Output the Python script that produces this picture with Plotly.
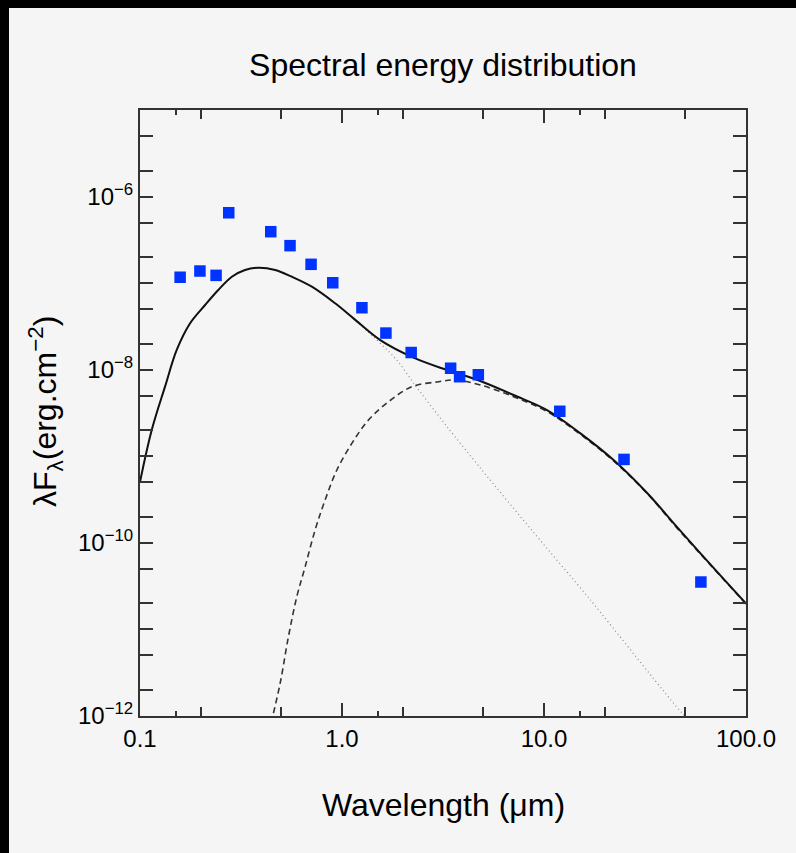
import plotly.graph_objects as go

# Observed photometry (wavelength in micron, lambda*F_lambda)
obs_wl = [0.158, 0.198, 0.238, 0.275, 0.444, 0.553, 0.703, 0.90, 1.255, 1.65,
          2.20, 3.45, 3.82, 4.73, 11.97, 24.9, 59.8]
obs_flux = [1.17e-7, 1.38e-7, 1.23e-7, 6.5e-7, 3.93e-7, 2.71e-7, 1.65e-7, 1.01e-7,
            5.2e-8, 2.65e-8, 1.58e-8, 1.04e-8, 8.3e-9, 8.75e-9, 3.31e-9, 9.2e-10, 3.53e-11]

# Total model (solid)
tot_wl = [0.1, 0.1143, 0.133, 0.152, 0.177, 0.210, 0.244, 0.285, 0.331, 0.386,
          0.467, 0.564, 0.709, 0.925, 1.14, 1.547, 2.26, 3.31, 4.84, 7.07,
          10.35, 15.14, 22.1, 32.4, 45.6, 59.5, 100.0]
tot_flux = [5.05e-10, 2.01e-9, 6.37e-9, 1.69e-8, 3.44e-8, 5.59e-8, 8.33e-8, 1.187e-7,
            1.42e-7, 1.51e-7, 1.42e-7, 1.187e-7, 9.1e-8, 5.85e-8, 3.92e-8, 2.2e-8,
            1.38e-8, 9.92e-9, 7.41e-9, 5.1e-9, 3.42e-9, 1.84e-9, 9.06e-10, 3.77e-10,
            1.52e-10, 7.55e-11, 1.99e-11]

# Stellar component (dotted)
star_wl = [0.1, 0.1143, 0.133, 0.152, 0.177, 0.210, 0.244, 0.285, 0.331, 0.386,
           0.467, 0.564, 0.709, 0.925, 1.14, 1.27, 1.87, 2.26, 3.31, 4.84, 8.85,
           16.97, 48.3, 53.1]
star_flux = [5.05e-10, 2.01e-9, 6.37e-9, 1.69e-8, 3.44e-8, 5.59e-8, 8.33e-8, 1.187e-7,
             1.42e-7, 1.51e-7, 1.42e-7, 1.187e-7, 9.1e-8, 5.85e-8, 3.92e-8, 3.11e-8,
             1.29e-8, 7.02e-9, 2.2e-9, 7.32e-10, 1.334e-10, 2.19e-11, 1.08e-12, 8.87e-13]

# Dust component (dashed)
dust_wl = [0.4457, 0.494, 0.543, 0.5975, 0.657, 0.736, 0.825, 0.943, 1.119, 1.352,
           1.70, 2.22, 3.01, 3.64, 4.84, 7.07, 10.35, 15.14, 22.1, 32.4, 45.6,
           59.5, 100.0]
dust_flux = [8.3e-13, 2.38e-12, 8.24e-12, 2.39e-11, 5.3e-11, 1.41e-10, 3.13e-10,
             6.94e-10, 1.41e-9, 2.62e-9, 4.27e-9, 6.37e-9, 7.27e-9, 7.6e-9, 6.66e-9,
             4.88e-9, 3.29e-9, 1.79e-9, 8.82e-10, 3.72e-10, 1.48e-10, 7.43e-11, 1.97e-11]

x_major = [0.1, 1.0, 10.0, 100.0]
x_major_text = ["0.1", "1.0", "10.0", "100.0"]
x_minor = [0.2, 0.5, 2, 5, 20, 50]
x_minor_small = [0.15, 1.5, 15]
y_major = [1e-12, 1e-10, 1e-8, 1e-6]
y_major_text = ["10<sup>−12</sup>", "10<sup>−10</sup>", "10<sup>−8</sup>", "10<sup>−6</sup>"]
y_minor = [2e-12, 5e-12, 1e-11, 2e-11, 5e-11, 2e-10, 5e-10, 1e-9, 2e-9, 5e-9,
           2e-8, 5e-8, 1e-7, 2e-7, 5e-7, 2e-6, 5e-6]

BG = "#f5f5f5"
FONT = "Liberation Sans, Arial, Helvetica, sans-serif"
AX = "#333333"

fig = go.Figure()
fig.add_trace(go.Scatter(x=star_wl, y=star_flux, mode="lines", line=dict(color="#8a8a8a", width=1.2, dash="1px,3px", shape="spline", smoothing=0.8), hoverinfo="skip"))
fig.add_trace(go.Scatter(x=dust_wl, y=dust_flux, mode="lines", line=dict(color="#333333", width=1.6, dash="6px,4px", shape="spline"), hoverinfo="skip"))
fig.add_trace(go.Scatter(x=tot_wl, y=tot_flux, mode="lines", line=dict(color="#111111", width=2, shape="spline"), hoverinfo="skip"))
fig.add_trace(go.Scatter(x=obs_wl, y=obs_flux, mode="markers", marker=dict(symbol="square", size=11.5, color="#0033ff")))
# helper invisible trace to bind the secondary (short tick) axis
fig.add_trace(go.Scatter(x=obs_wl[:1], y=obs_flux[:1], xaxis="x2", mode="markers", marker=dict(opacity=0), hoverinfo="skip"))

fig.update_layout(
    width=796, height=853,
    margin=dict(l=140, r=50, t=110, b=137),
    paper_bgcolor=BG, plot_bgcolor=BG,
    showlegend=False,
    font=dict(family=FONT, color="#000000"),
    title=dict(text="Spectral energy distribution", x=0.5, xref="paper", xanchor="center",
               y=1 - 65 / 853, yref="container", yanchor="middle", font=dict(size=32, family=FONT)),
    xaxis=dict(type="log", range=[-1, 2], tickmode="array", tickvals=x_major, ticktext=x_major_text,
               ticks="inside", ticklen=13, tickwidth=1.5, tickcolor=AX,
               showline=True, linecolor=AX, linewidth=2, mirror="allticks",
               showgrid=False, zeroline=False, tickfont=dict(size=24),
               minor=dict(tickmode="array", tickvals=x_minor, ticks="inside", ticklen=9, tickwidth=1.5, tickcolor=AX, showgrid=False)),
    xaxis2=dict(type="log", range=[-1, 2], overlaying="x", anchor="y", side="bottom",
                tickmode="array", tickvals=x_minor_small, ticks="inside", ticklen=5, tickwidth=1.5, tickcolor=AX,
                showticklabels=False, showline=False, mirror="allticks", showgrid=False, zeroline=False),
    yaxis=dict(type="log", range=[-12, -5], tickmode="array", tickvals=y_major, ticktext=y_major_text,
               ticks="inside", ticklen=13, tickwidth=1.5, tickcolor=AX,
               showline=True, linecolor=AX, linewidth=2, mirror="allticks",
               showgrid=False, zeroline=False, tickfont=dict(size=24),
               minor=dict(tickmode="array", tickvals=y_minor, ticks="inside", ticklen=6, tickwidth=1.5, tickcolor=AX, showgrid=False)),
)

fig.add_annotation(text="Wavelength (μm)", xref="paper", yref="paper", x=0.5, y=(716 - 805) / 606,
                   xanchor="center", yanchor="middle", showarrow=False, font=dict(size=32, family=FONT))
fig.add_annotation(text="λF<sub>λ</sub>(erg.cm<sup>−2</sup>)", xref="paper", yref="paper",
                   x=(45 - 140) / 606, y=(716 - 412) / 606, textangle=-90,
                   xanchor="center", yanchor="middle", showarrow=False, font=dict(size=32, family=FONT))

# black frame bands at top and left of the picture
fig.add_shape(type="rect", xref="paper", yref="paper", x0=-140 / 606, x1=(796 - 140) / 606,
              y0=(716 - 8) / 606, y1=716 / 606, fillcolor="#000000", line=dict(width=0), layer="above")
fig.add_shape(type="rect", xref="paper", yref="paper", x0=-140 / 606, x1=(9 - 140) / 606,
              y0=(716 - 853) / 606, y1=716 / 606, fillcolor="#000000", line=dict(width=0), layer="above")

fig.write_html("out.html")
